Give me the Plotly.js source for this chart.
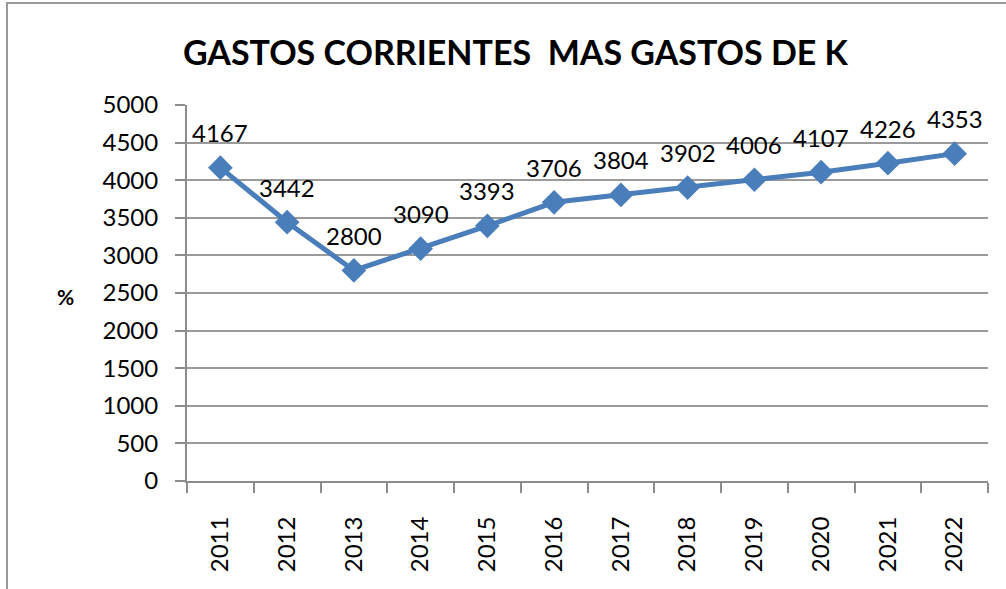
<!DOCTYPE html>
<html>
<head>
<meta charset="utf-8">
<script src="https://cdn.plot.ly/plotly-3.0.1.min.js"></script>
<style>
  html, body { margin: 0; padding: 0; background: #fff; }
  #wrap { position: relative; width: 1006px; height: 589px; overflow: hidden; }
  #frame { position: absolute; left: 6px; top: 2px; width: 1100px; height: 700px;
           border-left: 2px solid #9a9a9a; border-top: 2px solid #9a9a9a; pointer-events: none; }
  #chart { position: absolute; left: 0; top: 0; width: 1006px; height: 589px; }
</style>
</head>
<body>
<div id="wrap">
  <div id="chart"></div>
  <div id="frame"></div>
</div>
<script>
const years = ['2011','2012','2013','2014','2015','2016','2017','2018','2019','2020','2021','2022'];
const values = [4167, 3442, 2800, 3090, 3393, 3706, 3804, 3902, 4006, 4107, 4226, 4353];
const yTicks = [0, 500, 1000, 1500, 2000, 2500, 3000, 3500, 4000, 4500, 5000];

const FONT = 'Lato, "Open Sans", sans-serif';
const BLUE = '#4a7ebb';

const trace = {
  x: years,
  y: values,
  type: 'scatter',
  mode: 'lines+markers',
  line: { color: BLUE, width: 5 },
  marker: { symbol: 'diamond', size: 19, color: BLUE },
  hoverinfo: 'x+y'
};

const annotations = years.map((yr, i) => ({
  x: i, y: values[i], xref: 'x', yref: 'y',
  text: String(values[i]), showarrow: false,
  xanchor: 'center', yanchor: 'middle',
  yshift: 35,
  font: { family: FONT, size: 24, color: '#000' }
}));
annotations.push({
  xref: 'paper', yref: 'paper', x: -0.152, y: 0.49,
  xanchor: 'center', yanchor: 'middle',
  text: '<b>%</b>', showarrow: false,
  font: { family: FONT, size: 21, color: '#000' }
});

const layout = {
  width: 1006, height: 589,
  margin: { l: 187, r: 18, t: 105, b: 108 },
  paper_bgcolor: 'rgba(0,0,0,0)',
  plot_bgcolor: 'rgba(0,0,0,0)',
  showlegend: false,
  title: {
    text: '<b>GASTOS CORRIENTES  MAS GASTOS DE K</b>',
    xref: 'paper', x: 0.41, xanchor: 'center',
    yref: 'container', y: 0.91, yanchor: 'middle',
    font: { family: FONT, size: 34, color: '#000' }
  },
  xaxis: {
    type: 'category',
    range: [-0.5, 11.5],
    tickvals: years,
    ticktext: years,
    tickangle: -90,
    tickson: 'boundaries',
    ticks: 'outside', ticklen: 10, tickwidth: 2, tickcolor: '#8c8c8c',
    showline: true, linecolor: '#8c8c8c', linewidth: 2,
    showgrid: false, zeroline: false,
    ticklabelstandoff: 24,
    tickfont: { family: FONT, size: 24, color: '#000' },
    fixedrange: true
  },
  yaxis: {
    range: [0, 5000],
    tickvals: yTicks,
    ticktext: yTicks.map(String),
    ticks: 'outside', ticklen: 10, tickwidth: 2, tickcolor: '#8c8c8c',
    showline: true, linecolor: '#8c8c8c', linewidth: 2,
    showgrid: true, gridcolor: '#9a9a9a', gridwidth: 2,
    zeroline: false,
    ticklabelstandoff: 12,
    tickfont: { family: FONT, size: 24, color: '#000' },
    fixedrange: true
  },
  annotations: annotations
};

Plotly.newPlot('chart', [trace], layout, { displayModeBar: false, staticPlot: true });
</script>
</body>
</html>
